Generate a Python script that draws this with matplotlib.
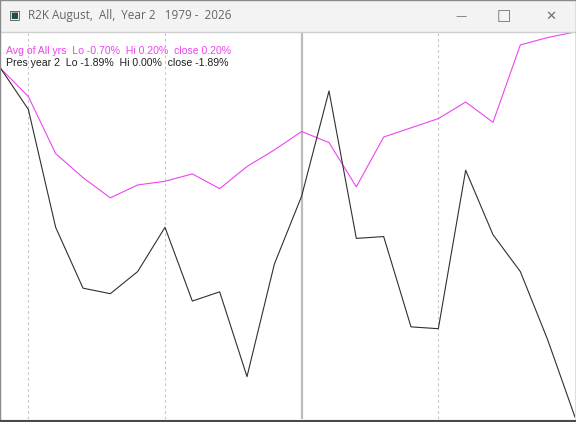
import matplotlib
matplotlib.use("Agg")
import matplotlib.pyplot as plt
from matplotlib.patches import Rectangle

# daily path, % change from start of month
days = list(range(22))
avg_all = [0.0, -0.15, -0.46, -0.59, -0.70, -0.63, -0.61, -0.57, -0.65, -0.53, -0.44,
           -0.34, -0.40, -0.64, -0.37, -0.32, -0.27, -0.18, -0.29, 0.13, 0.17, 0.20]
pres_yr2 = [0.0, -0.22, -0.86, -1.19, -1.22, -1.10, -0.86, -1.26, -1.21, -1.67, -1.06,
            -0.69, -0.12, -0.92, -0.91, -1.40, -1.41, -0.55, -0.90, -1.10, -1.47, -1.89]
week_marks = [1, 6, 16]
mid_mark = 11

title = "R2K August,  All,  Year 2   1979 -  2026"
avg_label = "Avg of All yrs  Lo -0.70%  Hi 0.20%  close 0.20%"
pres_label = "Pres year 2  Lo -1.89%  Hi 0.00%  close -1.89%"

W, H = 576, 422
fig = plt.figure(figsize=(W / 100, H / 100), dpi=100)
fig.patch.set_facecolor("#f3f3f3")

# window chrome
fig.add_artist(Rectangle((0, 0), 1, 1, transform=fig.transFigure,
                         facecolor="none", edgecolor="#8a8a8a", lw=1))
fig.text(28 / W, 1 - 16 / H, title, fontsize=8.5, color="#666666",
         family="Open Sans", va="center", ha="left")
fig.text(15 / W, 1 - 15 / H, "\u25a3", fontsize=9, color="#2b4a4a",
         va="center", ha="center", family="DejaVu Sans")
fig.text(461 / W, 1 - 16 / H, "\u2014", fontsize=8, color="#707070", va="center", ha="center")
fig.text(504 / W, 1 - 16 / H, "\u25a1", fontsize=11, color="#707070", va="center", ha="center")
fig.text(551 / W, 1 - 16 / H, "\u2715", fontsize=9.5, color="#707070", va="center", ha="center")

ax = fig.add_axes([1 / W, (H - 419) / H, 574 / W, (419 - 32) / H])
ax.set_facecolor("white")
ax.set_xlim(0, 21)
ax.set_ylim(-1.90, 0.20)
ax.set_xticks([])
ax.set_yticks([])
for side in ["left", "right", "bottom"]:
    ax.spines[side].set_visible(False)
ax.spines["top"].set_color("#cfcfcf")
ax.spines["top"].set_linewidth(1)

for d in week_marks:
    ax.axvline(d, color="#c8c8c8", lw=0.8, ls=(0, (2.5, 2.5)))
ax.axvline(mid_mark, color="#bcbcbc", lw=1.6)

ax.plot(days, avg_all, color="#ee44ee", lw=0.8)
ax.plot(days, pres_yr2, color="#303030", lw=0.8)

ax.text(5 / 574, 1 - 19 / 387, avg_label, transform=ax.transAxes, fontsize=7.6,
        color="#ee44ee", family="Liberation Sans", va="center", ha="left")
ax.text(5 / 574, 1 - 31 / 387, pres_label, transform=ax.transAxes, fontsize=7.6,
        color="#202020", family="Liberation Sans", va="center", ha="left")

# bottom frame
fig.add_artist(Rectangle((0, 0), 1, 2 / H, transform=fig.transFigure,
                         facecolor="#4a4a4a", edgecolor="none"))

fig.savefig("out.png", dpi=100)
